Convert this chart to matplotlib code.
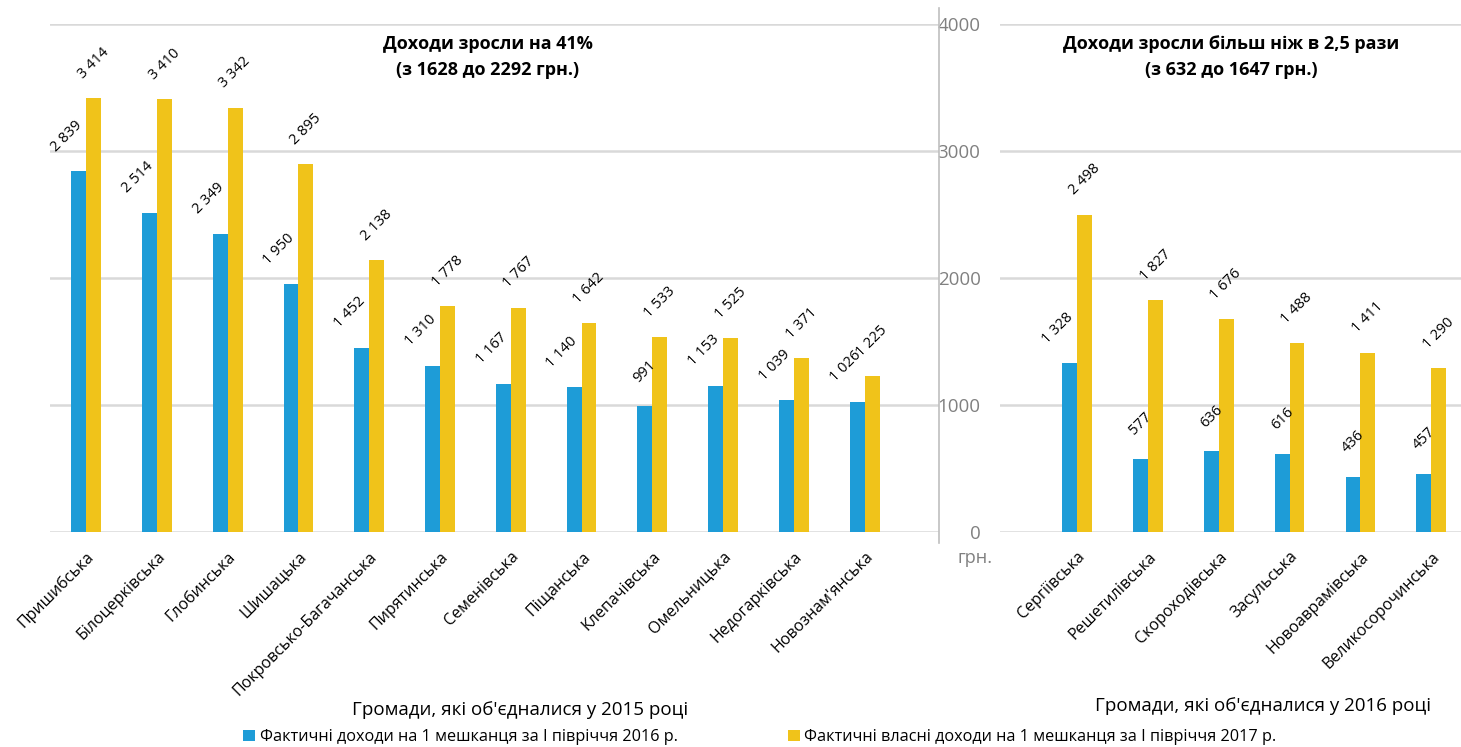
import matplotlib
matplotlib.use("Agg")
import matplotlib.pyplot as plt
from matplotlib.lines import Line2D
from matplotlib.patches import Patch

plt.rcParams['font.family'] = ['Open Sans', 'DejaVu Sans']

# ---- data ----
cats_2015 = ["Пришибська", "Білоцерківська", "Глобинська", "Шишацька",
             "Покровсько-Багачанська", "Пирятинська", "Семенівська", "Піщанська",
             "Клепачівська", "Омельницька", "Недогарківська", "Новознам'янська"]
inc2016_2015 = [2839, 2514, 2349, 1950, 1452, 1310, 1167, 1140, 991, 1153, 1039, 1026]
own2017_2015 = [3414, 3410, 3342, 2895, 2138, 1778, 1767, 1642, 1533, 1525, 1371, 1225]

cats_2016 = ["Сергіївська", "Решетилівська", "Скороходівська", "Засульська",
             "Новоаврамівська", "Великосорочинська"]
inc2016_2016 = [1328, 577, 636, 616, 436, 457]
own2017_2016 = [2498, 1827, 1676, 1488, 1411, 1290]

yticks = [0, 1000, 2000, 3000, 4000]
series_names = ["Фактичні доходи на 1 мешканця за І півріччя 2016 р.",
                "Фактичні власні доходи на 1 мешканця за І півріччя 2017 р."]
title_2015 = "Доходи зросли на 41%\n(з 1628 до 2292 грн.)"
title_2016 = "Доходи зросли більш ніж в 2,5 рази\n(з 632 до 1647 грн.)"
xlabel_2015 = "Громади, які об'єдналися у 2015 році"
xlabel_2016 = "Громади, які об'єдналися у 2016 році"
unit = "грн."

BLUE = "#1E9CD7"
YELLOW = "#F0C31A"
GRID = "#D9D9D9"

W, H = 1461, 747
fig = plt.figure(figsize=(W / 100, H / 100), dpi=100)

def fx(px):
    return px / W

def fy(py):
    return 1 - py / H

bottom = fy(532)
height = fy(24) - fy(532)
axL = fig.add_axes([fx(50), bottom, fx(939) - fx(50), height])
axR = fig.add_axes([fx(1000), bottom, fx(1461) - fx(1000), height])

bw = 0.21

def fmt(v):
    return f"{v:,}".replace(",", " ")

def draw(ax, cats, s1, s2, xlim):
    n = len(cats)
    xs = list(range(n))
    b1 = ax.bar([x - bw / 2 for x in xs], s1, width=bw, color=BLUE, zorder=3)
    b2 = ax.bar([x + bw / 2 for x in xs], s2, width=bw, color=YELLOW, zorder=3)
    for rect, v in zip(b1, s1):
        s = fmt(v)
        shift = -6 * (len(s) - 3)
        ax.annotate(s, (rect.get_x() + rect.get_width() / 2, v),
                    xytext=(shift, 35), textcoords="offset pixels",
                    rotation=45, ha="center", va="center", fontsize=10.5, color="#000000")
    for rect, v in zip(b2, s2):
        ax.annotate(fmt(v), (rect.get_x() + rect.get_width() / 2, v),
                    xytext=(0, 35), textcoords="offset pixels",
                    rotation=45, ha="center", va="center", fontsize=10.5, color="#000000")
    ax.set_xlim(*xlim)
    ax.set_ylim(0, 4000)
    ax.set_yticks(yticks)
    ax.yaxis.grid(True, color=GRID, linewidth=1.8, zorder=0)
    ax.set_axisbelow(True)
    for sp in ax.spines.values():
        sp.set_visible(False)
    ax.set_xticks(xs)
    ax.set_xticklabels(cats, rotation=45, ha="right", rotation_mode="anchor",
                       fontsize=11.5, color="#000000")
    ax.tick_params(axis="x", length=0, pad=12)
    ax.tick_params(axis="y", length=0)

draw(axL, cats_2015, inc2016_2015, own2017_2015, (-0.51, 12.05))
draw(axR, cats_2016, inc2016_2016, own2017_2016, (-1.088, 5.42))

axL.set_yticklabels([])
axR.set_yticklabels([str(t) for t in yticks], fontsize=13.5, color="#808080")
axR.tick_params(axis="y", pad=14)

# vertical axis line of the right panel
fig.add_artist(Line2D([fx(939), fx(939)], [fy(8), fy(543)], color="#BFBFBF", linewidth=1.2))
fig.text(fx(975), fy(558), unit, fontsize=13, color="#808080", ha="center", va="center")

# titles
fig.text(fx(488), fy(57), title_2015, ha="center", va="center", fontsize=13,
         fontweight="bold", linespacing=1.6)
fig.text(fx(1231), fy(57), title_2016, ha="center", va="center", fontsize=13,
         fontweight="bold", linespacing=1.6)

# axis titles
fig.text(fx(520), fy(710), xlabel_2015, ha="center", va="center", fontsize=13.5)
fig.text(fx(1263), fy(706), xlabel_2016, ha="center", va="center", fontsize=13.5)

# legend
handles = [Patch(facecolor=BLUE, edgecolor="none"), Patch(facecolor=YELLOW, edgecolor="none")]
fig.legend(handles, series_names, loc="center", bbox_to_anchor=(fx(760), fy(737)),
           ncol=2, frameon=False, fontsize=11.7, handlelength=0.7, handleheight=0.7,
           handletextpad=0.3, columnspacing=6.8, borderpad=0, borderaxespad=0)

fig.savefig("out.png", dpi=100)
